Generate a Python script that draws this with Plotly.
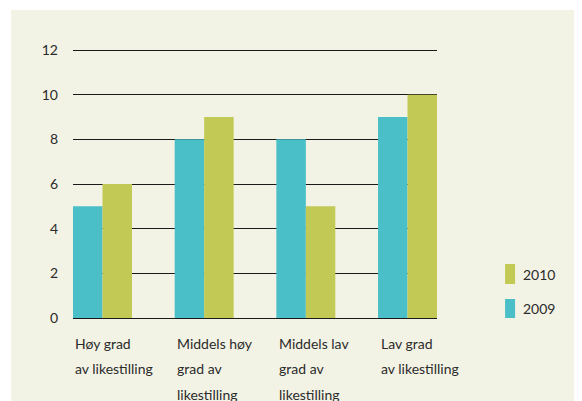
import plotly.graph_objects as go

categories = ["Høy grad", "Middels høy grad", "Middels lav grad", "Lav grad"]
label_lines = [
    ["Høy grad", "av likestilling"],
    ["Middels høy", "grad av", "likestilling"],
    ["Middels lav", "grad av", "likestilling"],
    ["Lav grad", "av likestilling"],
]
values_2009 = [5, 8, 8, 9]
values_2010 = [6, 9, 5, 10]
y_ticks = [0, 2, 4, 6, 8, 10, 12]

teal = "#4BBFC7"
olive = "#C2C954"
beige = "#F3F3E5"
txt = "#2b2b2b"
font = "Lato"

fig = go.Figure()
fig.add_trace(go.Bar(x=list(range(4)), y=values_2009, name="2009",
                     marker=dict(color=teal, line=dict(width=0))))
fig.add_trace(go.Bar(x=list(range(4)), y=values_2010, name="2010",
                     marker=dict(color=olive, line=dict(width=0))))

# category labels, left aligned under each group, one annotation per line
ann = []
for i, lines in enumerate(label_lines):
    for j, line in enumerate(lines):
        ann.append(dict(x=i, y=0, xref="x", yref="y", text=line,
                        xanchor="left", yanchor="middle", xshift=-29,
                        yshift=-25 - 25.5 * j, showarrow=False,
                        font=dict(size=14, color=txt, family=font)))

# hand-made legend: tall swatches with labels (y in paper units of the plot area)
ph = 272.0
legend_items = [("2010", olive, 34, 54), ("2009", teal, 0, 19)]
shapes = [dict(type="rect", xref="paper", yref="paper", x0=-0.17, x1=1.6,
               y0=-0.5, y1=(ph + 36) / ph, fillcolor=beige,
               line=dict(width=0), layer="below")]
for name, col, y0, y1 in legend_items:
    shapes.append(dict(type="rect", xref="paper", yref="paper", x0=1.187,
                       x1=1.2145, y0=y0 / ph, y1=y1 / ph, fillcolor=col,
                       line=dict(width=0)))
    ann.append(dict(x=1.232, y=(y0 + y1) / 2 / ph, xref="paper",
                    yref="paper", text=name, xanchor="left",
                    yanchor="middle", showarrow=False,
                    font=dict(size=14, color=txt, family=font)))

# page body has an 8px margin, so the figure is a bit smaller and shifted
fig.update_layout(
    width=574, height=393,
    margin=dict(l=65, r=145, t=38, b=83),
    paper_bgcolor="white", plot_bgcolor="rgba(0,0,0,0)",
    barmode="group", bargap=0.42, bargroupgap=0,
    showlegend=False,
    shapes=shapes, annotations=ann,
    font=dict(family=font, size=14, color=txt),
)
fig.update_xaxes(range=[-0.29, 3.29], showticklabels=False, showgrid=False,
                 zeroline=False, showline=False, fixedrange=True)
fig.update_yaxes(range=[0, 12.18], tickvals=y_ticks, showgrid=True,
                 gridcolor="#1a1a1a", gridwidth=1.3, zeroline=True,
                 zerolinecolor="#1a1a1a", zerolinewidth=1.3, showline=False,
                 ticklabelstandoff=14, tickfont=dict(size=14, color=txt))

fig.write_html("out.html")
